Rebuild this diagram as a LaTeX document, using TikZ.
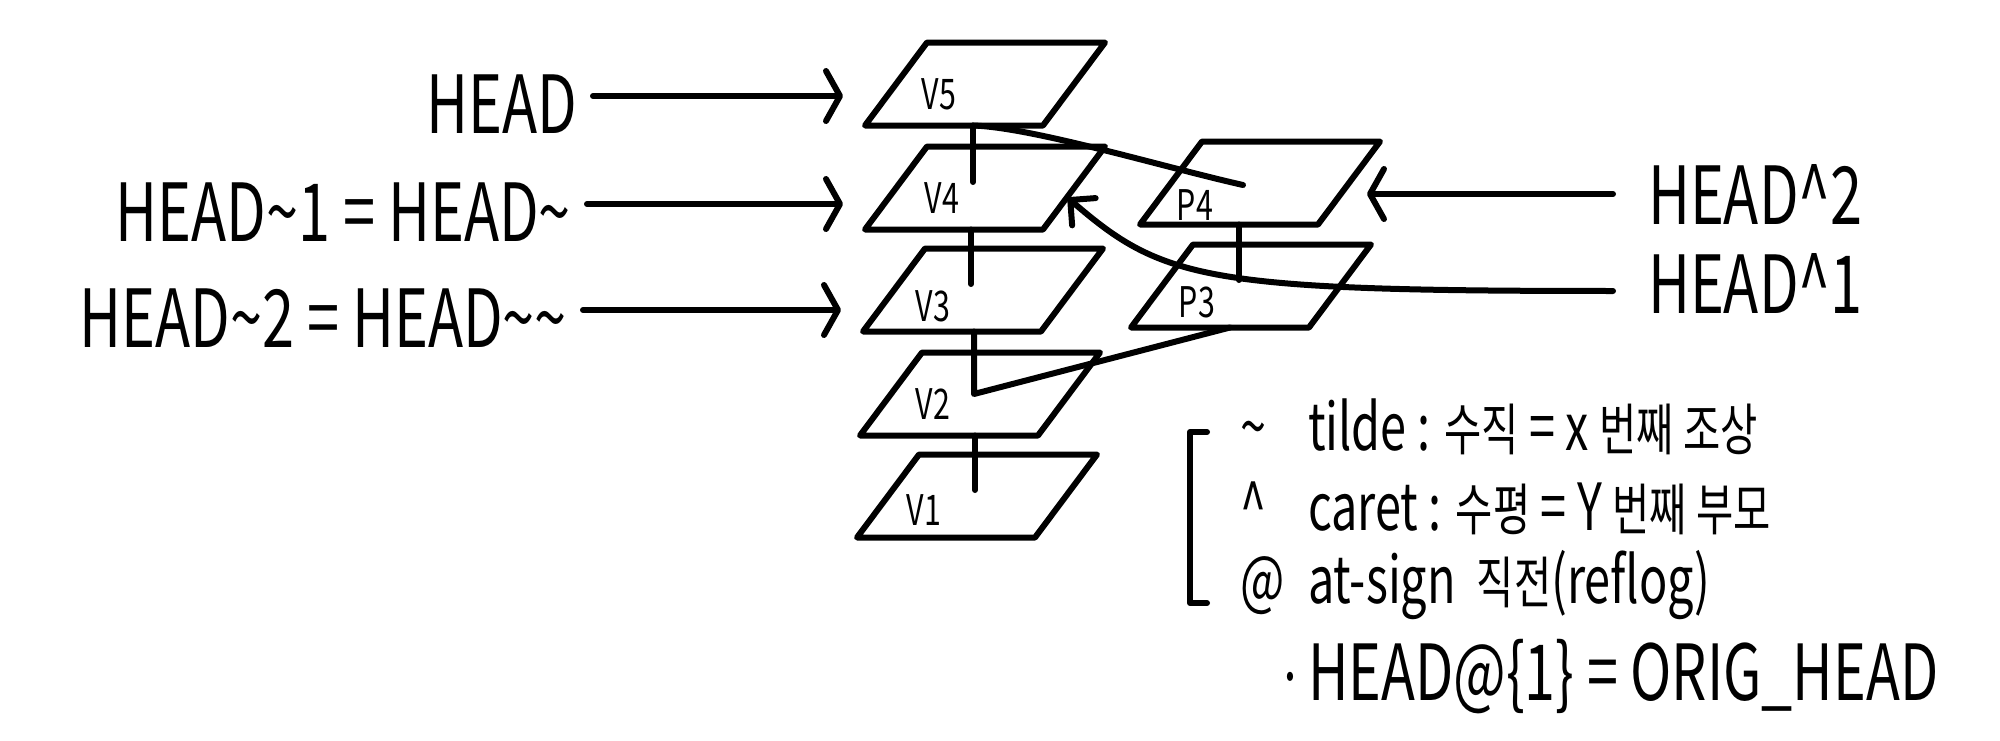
\documentclass[tikz,border=0pt]{standalone}
\usepackage{fontspec}
\setmainfont[FakeStretch=0.72]{Noto Sans CJK KR}
\usetikzlibrary{arrows.meta,calc}
\newcommand\ko[1]{{\fontsize{16}{19}\selectfont #1}}
\tikzset{
  commit/.style={minimum width=17.8mm,minimum height=8.3mm,inner sep=0pt,outer sep=0pt},
  tag/.style={font=\fontsize{12}{14}\selectfont,inner sep=0pt},
  ref/.style={font=\fontsize{22.8}{27}\selectfont,inner sep=0pt},
  note/.style={font=\fontsize{18.5}{22}\selectfont,inner sep=0pt,anchor=base west}
}
\begin{document}
\begin{tikzpicture}[x=0.1mm,y=-0.1mm,line width=0.6mm,line cap=round,line join=round,
    >={Straight Barb[length=1.4mm,width=5mm,round]}]
\useasboundingbox (0,0) rectangle (2000,741);

\foreach \n/\lab/\x/\y/\dx/\dy in {v5/V5/985/84/-46/10,v4/V4/985/188/-43/10,
    v3/V3/983/290/-50/16,v2/V2/980/394/-47/10,v1/V1/977/496/-53/14,
    p4/P4/1260/183/-65/22,p3/P3/1251/286/-54/16}
{
  \node[commit] (\n) at (\x,\y) {};
  \draw ($(\n.south west)+(-31,0)$) -- ($(\n.south east)+(-31,0)$)
    -- ($(\n.north east)+(31,0)$) -- ($(\n.north west)+(31,0)$) -- cycle;
  \node[tag] (\n-lab) at ($(\n)+(\dx,\dy)$) {\lab};
}

\foreach \a/\b/\d in {v5/v4/-12,v4/v3/-14,v2/v1/-5,p4/p3/-21}
  \draw ($(\a.south)+(\d,0)$) -- ($(\a.center |- \b.center)+(\d,-6)$);
\draw ($(v3.south)+(-9,0)$) -- ($(v3.center |- v2.center)+(-9,0)$) -- ($(p3.south)+(-21,0)$);
\draw ($(v5.south)+(-12,0)$) .. controls +(60,2) and +(-80,-18) .. ($(p4.center)+(-17,2)$);

\node[ref,anchor=east] (head) at (580,104) {HEAD};
\node[ref,anchor=east] (head-t1) at (574,212) {HEAD\textasciitilde1 = HEAD\textasciitilde};
\node[ref,anchor=east] (head-t2) at (570,318) {HEAD\textasciitilde2 = HEAD\textasciitilde\textasciitilde};
\foreach \r/\c in {head/v5,head-t1/v4,head-t2/v3}
  \draw[->,shorten <=1.3mm,shorten >=5.3mm] ($(\r.east)+(0,-8)$) -- ($(\r.east -| \c.west)+(0,-8)$);

\node[ref,anchor=west] (head-c2) at (1645,194) {HEAD\textasciicircum2};
\node[ref,anchor=west] (head-c1) at (1645,283) {HEAD\textasciicircum1};
\draw[->,shorten <=3.2mm] (head-c2.west) -- ($(head-c2.west -| p4.east)+(18,0)$);
\draw[-{Straight Barb[length=1.8mm,width=3.6mm,round]},shorten <=3.2mm] ($(head-c1.west)+(0,8)$)
  .. controls +(-440,0) and +(95,82) .. ($(v4.east)+(-6,10)$);

\draw (1207,432) -- (1190,432) -- (1190,603) -- (1207,603);
\foreach \s/\t/\y [count=\i] in {\textasciitilde/{tilde : \ko{수직} = x \ko{번째\ 조상}}/450,
    \textasciicircum/{caret : \ko{수평} = Y \ko{번째\ 부모}}/530,
    @/{at-sign\ \ \ko{직전}(reflog)}/603}
{
  \node[note] (sym\i) at (1237,\y) {\s};
  \node[note] (key\i) at (1305,\y) {\t};
}
\node[note] (dot) at (1274,700) {·};
\node[note,font=\fontsize{22}{26}\selectfont] (orig) at (1305,700) {HEAD@\{1\} = ORIG\_HEAD};
\end{tikzpicture}
\end{document}
